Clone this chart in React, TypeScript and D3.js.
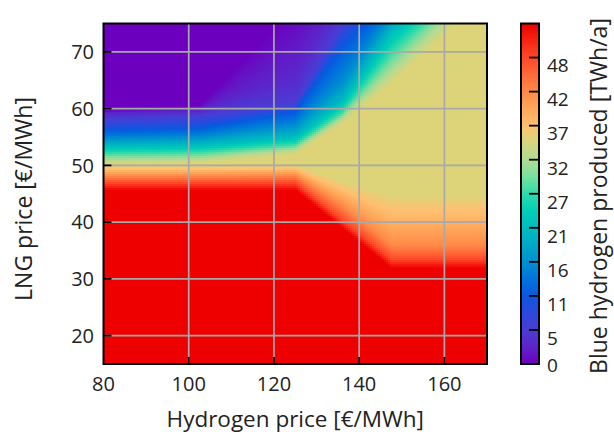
import React, { useEffect, useRef } from "react";
import * as d3 from "d3";

// ---- axes ----
const hydrogenDomain = [80, 170];
const lngDomain = [15, 75];
const hydrogenTicks = [80, 100, 120, 140, 160];
const lngTicks = [20, 30, 40, 50, 60, 70];

// ---- field: for each hydrogen price column, the LNG price at which each production level is reached ----
const columnPrices = [80, 102.5, 125, 136, 147.5, 170];
const levelValues = [53, 47.7, 42.4, 37.1, 35, 35, 31.8, 26.5, 21.2, 15.9, 10.6, 5.3, 3, 0];
const levelsAt80 = [45.7, 47.0, 48.2, 49.4, 50.0, 50.3, 51.0, 52.2, 53.4, 54.7, 56.2, 58.2, 59.2, 59.8];
const levelsAt102 = [45.7, 47.0, 48.2, 49.4, 50.0, 50.4, 51.2, 52.4, 53.6, 55.0, 56.6, 58.8, 59.6, 60.6];
const levelsAt125 = [45.7, 47.0, 48.3, 49.5, 50.0, 52.0, 52.8, 53.8, 55.0, 57.0, 59.5, 61.0, 66.0, 78.0];
const levelsAt136 = [39.0, 40.4, 43.0, 45.8, 47.3, 57.3, 58.3, 59.5, 61.3, 64.5, 71.0, 75.0, 80.0, 88.0];
const levelsAt147 = [32.0, 33.5, 36.0, 42.0, 44.8, 64.4, 66.5, 70.0, 73.5, 76.5, 79.4, 85.0, 90.0, 95.0];
const levelsAt170 = [32.0, 33.5, 36.0, 42.0, 44.8, 79.6, 82.8, 85.5, 88.0, 91.0, 94.0, 98.0, 100.0, 102.0];
const levelPositions = [levelsAt80, levelsAt102, levelsAt125, levelsAt136, levelsAt147, levelsAt170];

// ---- colour map ----
const colorStopValues = [0, 2.6, 5.3, 8, 10.6, 13.3, 15.9, 18.5, 21.2, 23.8, 26.5, 29.2, 31.8, 35, 37.1, 39.7, 42.4, 45, 47.7, 50.3, 53];
const colorStopColors = ["#6c00bf", "#5e22c9", "#4a3cd4", "#2c48dc", "#0a58e0", "#0074dc", "#0090d2", "#00a8c8", "#00bcc0", "#00cfb8", "#30dcac", "#78e0a0", "#b0dc94", "#ddd47a", "#ffc070", "#ffa85a", "#ff8a48", "#ff6a38", "#ff4828", "#f82414", "#ee0000"];
const colorMax = 53;
const cbTickValues = [0, 5.3, 10.6, 15.9, 21.2, 26.5, 31.8, 37.1, 42.4, 47.7];
const cbTickLabels = ["0", "5", "11", "16", "21", "27", "32", "37", "42", "48"];

const W = 614;
const H = 435;
const PL = 103.5, PR = 487, PT = 23.5, PB = 364;
const CBL = 521, CBR = 539;
const FONT = "'Open Sans', sans-serif";

const xScale = d3.scaleLinear().domain(hydrogenDomain).range([PL, PR]);
const yScale = d3.scaleLinear().domain(lngDomain).range([PB, PT]);
const color = d3.scaleLinear<string>().domain(colorStopValues).range(colorStopColors).interpolate(d3.interpolateRgb).clamp(true);
const cbScale = d3.scaleLinear().domain([0, colorMax]).range([PB, PT]);

function field(x: number, y: number): number {
  let i = d3.bisectRight(columnPrices, x) - 1;
  i = Math.max(0, Math.min(columnPrices.length - 2, i));
  const t = (x - columnPrices[i]) / (columnPrices[i + 1] - columnPrices[i]);
  const a = levelPositions[i], b = levelPositions[i + 1];
  const p = a.map((v, k) => v * (1 - t) + b[k] * t);
  const n = p.length;
  if (y <= p[0]) return levelValues[0];
  if (y >= p[n - 1]) return levelValues[n - 1];
  for (let k = 0; k < n - 1; k++) {
    if (y >= p[k] && y < p[k + 1]) {
      const f = (y - p[k]) / (p[k + 1] - p[k] || 1);
      return levelValues[k] + (levelValues[k + 1] - levelValues[k]) * f;
    }
  }
  return levelValues[n - 1];
}

export default function App() {
  const heatRef = useRef<SVGGElement>(null);

  useEffect(() => {
    if (!heatRef.current) return;
    const step = 2;
    const cells: { px: number; py: number; w: number; h: number; v: number }[] = [];
    for (let py = PT; py < PB; py += step) {
      for (let px = PL; px < PR; px += step) {
        const w = Math.min(step, PR - px);
        const h = Math.min(step, PB - py);
        const v = field(xScale.invert(px + w / 2), yScale.invert(py + h / 2));
        cells.push({ px, py, w, h, v });
      }
    }
    d3.select(heatRef.current)
      .selectAll("rect")
      .data(cells)
      .join("rect")
      .attr("x", (d) => d.px)
      .attr("y", (d) => d.py)
      .attr("width", (d) => d.w + 0.6)
      .attr("height", (d) => d.h + 0.6)
      .attr("fill", (d) => color(d.v));
  }, []);

  return (
    <svg width={W} height={H} style={{ position: "absolute", left: 0, top: 0, background: "#fff" }} fontFamily={FONT}>
      <defs>
        <linearGradient id="cbGrad" x1="0" y1="1" x2="0" y2="0">
          {colorStopValues.map((v, i) => (
            <stop key={i} offset={v / colorMax} stopColor={colorStopColors[i]} />
          ))}
        </linearGradient>
        <clipPath id="plotClip">
          <rect x={PL} y={PT} width={PR - PL} height={PB - PT} />
        </clipPath>
      </defs>
      <g ref={heatRef} clipPath="url(#plotClip)" shapeRendering="crispEdges" />
      {/* grid */}
      <g stroke="#a9a9a9" strokeWidth={1.7}>
        {hydrogenTicks.filter((t) => t > hydrogenDomain[0]).map((t) => (
          <line key={"gx" + t} x1={xScale(t)} x2={xScale(t)} y1={PT} y2={PB} />
        ))}
        {lngTicks.map((t) => (
          <line key={"gy" + t} x1={PL} x2={PR} y1={yScale(t)} y2={yScale(t)} />
        ))}
      </g>
      {/* ticks */}
      <g stroke="#000" strokeWidth={1.8}>
        {hydrogenTicks.filter((t) => t > hydrogenDomain[0]).map((t) => (
          <line key={"tx" + t} x1={xScale(t)} x2={xScale(t)} y1={PB} y2={PB - 7} />
        ))}
        {lngTicks.map((t) => (
          <line key={"ty" + t} x1={PL} x2={PL + 8} y1={yScale(t)} y2={yScale(t)} />
        ))}
      </g>
      <rect x={PL} y={PT} width={PR - PL} height={PB - PT} fill="none" stroke="#000" strokeWidth={2} />
      {/* tick labels */}
      <g fontSize={20} fill="#222">
        {hydrogenTicks.map((t) => (
          <text key={"lx" + t} x={xScale(t)} y={390.5} textAnchor="middle">{t}</text>
        ))}
        {lngTicks.map((t) => (
          <text key={"ly" + t} x={94} y={yScale(t)} dy="0.36em" textAnchor="end">{t}</text>
        ))}
      </g>
      <text x={(PL + PR) / 2} y={427} textAnchor="middle" fontSize={22.5} fill="#222">Hydrogen price [€/MWh]</text>
      <text transform={`translate(32,199) rotate(-90)`} textAnchor="middle" fontSize={23} fill="#222">LNG price [€/MWh]</text>
      {/* colour bar */}
      <rect x={CBL} y={PT} width={CBR - CBL} height={PB - PT} fill="url(#cbGrad)" stroke="#000" strokeWidth={2} />
      <g stroke="#000" strokeWidth={1.8}>
        {cbTickValues.filter((v) => v > 0).map((v) => (
          <line key={"cbt" + v} x1={CBR - 10} x2={CBR} y1={cbScale(v)} y2={cbScale(v)} />
        ))}
      </g>
      <g fontSize={19} fill="#222">
        {cbTickValues.map((v, i) => (
          <text key={"cbl" + v} x={547} y={Math.min(cbScale(v) + 8, 365)} dy="0.36em">{cbTickLabels[i]}</text>
        ))}
      </g>
      <text transform={`translate(607,196) rotate(-90)`} textAnchor="middle" fontSize={23} fill="#222">Blue hydrogen produced [TWh/a]</text>
    </svg>
  );
}
